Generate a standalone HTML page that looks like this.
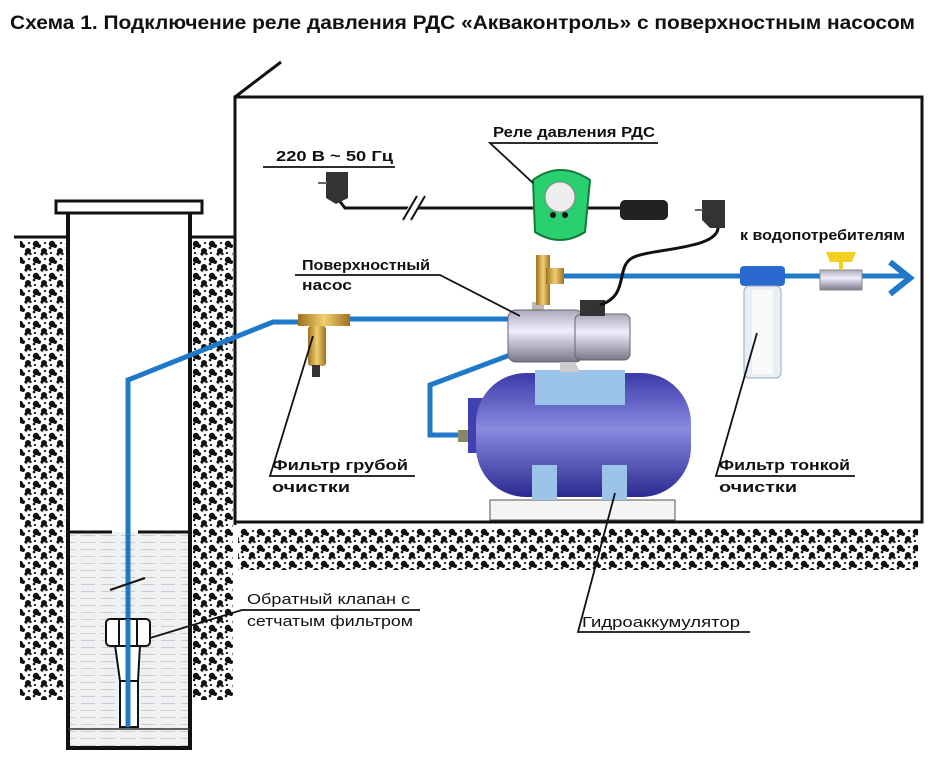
<!DOCTYPE html>
<html><head><meta charset="utf-8"><style>
html,body{margin:0;padding:0;background:#fff;}
svg{display:block;}
text{font-family:"Liberation Sans","DejaVu Sans",sans-serif;fill:#111;}
</style></head><body>
<svg width="940" height="764" viewBox="0 0 940 764" xmlns="http://www.w3.org/2000/svg">
<defs>
<pattern id="soil" width="16" height="16" patternUnits="userSpaceOnUse">
<circle cx="4" cy="4" r="3.2" fill="#111"/><circle cx="7" cy="6" r="2" fill="#111"/><circle cx="2" cy="8" r="1.3" fill="#111"/>
<circle cx="12" cy="11" r="3" fill="#111"/><circle cx="10" cy="14" r="1.6" fill="#111"/><circle cx="14.5" cy="14" r="1.2" fill="#111"/>
<circle cx="13" cy="3" r="1.1" fill="#111"/><circle cx="3" cy="13" r="1.1" fill="#111"/>
</pattern>
<pattern id="water" width="20" height="7" patternUnits="userSpaceOnUse">
<rect width="20" height="7" fill="#eef0f2"/><line x1="1" y1="3.5" x2="15" y2="3.5" stroke="#c9ccd0" stroke-width="1"/>
</pattern>
<linearGradient id="tank" x1="0" y1="0" x2="0" y2="1"><stop offset="0" stop-color="#3a3aa8"/><stop offset="0.45" stop-color="#8a8ae0"/><stop offset="1" stop-color="#2a2a90"/></linearGradient>
<linearGradient id="metal" x1="0" y1="0" x2="0" y2="1"><stop offset="0" stop-color="#aab"/><stop offset="0.4" stop-color="#eef"/><stop offset="1" stop-color="#778"/></linearGradient>
<linearGradient id="brass" x1="0" y1="0" x2="1" y2="0"><stop offset="0" stop-color="#a07020"/><stop offset="0.5" stop-color="#f0d070"/><stop offset="1" stop-color="#a07020"/></linearGradient>
</defs>

<text x="10" y="29" font-size="19" font-weight="bold" textLength="905" lengthAdjust="spacingAndGlyphs">Схема 1. Подключение реле давления РДС «Акваконтроль» с поверхностным насосом</text>

<!-- soil -->
<rect x="20" y="240" width="45" height="460" fill="url(#soil)"/>
<rect x="193" y="240" width="40" height="460" fill="url(#soil)"/>
<rect x="238" y="528" width="680" height="42" fill="url(#soil)"/>

<!-- house -->
<polyline points="235,525 235,97 922,97 922,522 235,522" fill="none" stroke="#111" stroke-width="3"/>
<line x1="235" y1="97" x2="281" y2="62" stroke="#111" stroke-width="3"/>

<!-- well -->
<rect x="56" y="201" width="146" height="12" fill="#fff" stroke="#111" stroke-width="3"/>
<line x1="14" y1="237" x2="68" y2="237" stroke="#111" stroke-width="3"/>
<line x1="190" y1="237" x2="235" y2="237" stroke="#111" stroke-width="3"/>
<rect x="68" y="532" width="122" height="214" fill="url(#water)"/>
<line x1="68" y1="213" x2="68" y2="748" stroke="#111" stroke-width="4"/>
<line x1="190" y1="213" x2="190" y2="748" stroke="#111" stroke-width="4"/>
<line x1="66" y1="748" x2="192" y2="748" stroke="#111" stroke-width="4"/>
<line x1="68" y1="532" x2="112" y2="532" stroke="#111" stroke-width="3"/>
<line x1="138" y1="532" x2="190" y2="532" stroke="#111" stroke-width="3"/>
<line x1="68" y1="729" x2="190" y2="729" stroke="#333" stroke-width="1.5"/>

<!-- blue pipes -->
<g fill="none" stroke="#1f78c8" stroke-width="5">
<polyline points="128,727 128,380 273,322 300,322"/>
<line x1="350" y1="319" x2="508" y2="319"/>
<polyline points="510,355 430,385 430,435 462,435"/>
<line x1="560" y1="276" x2="905" y2="276"/>
</g>
<polyline points="890,262 910,278 890,294" fill="none" stroke="#1f78c8" stroke-width="6"/>
<line x1="110" y1="590" x2="145" y2="578" stroke="#111" stroke-width="2"/>

<!-- check valve -->
<g stroke="#111" stroke-width="2" fill="#fff">
<path d="M115,645 L140,645 L138,681 L120,681 Z"/>
<rect x="120" y="681" width="18" height="46"/>
<rect x="106" y="619" width="44" height="27" rx="4"/>
<line x1="119" y1="619" x2="119" y2="646"/><line x1="137" y1="619" x2="137" y2="646"/>
</g>
<line x1="128" y1="619" x2="128" y2="727" stroke="#1f78c8" stroke-width="5"/>

<!-- coarse filter -->
<rect x="298" y="314" width="52" height="12" fill="url(#brass)"/>
<rect x="308" y="326" width="18" height="40" fill="url(#brass)" rx="3"/>
<rect x="312" y="365" width="8" height="12" fill="#333"/>

<!-- tank -->
<rect x="490" y="500" width="185" height="20" fill="#f4f4f4" stroke="#555"/>
<rect x="468" y="398" width="15" height="55" fill="#4040b0"/>
<rect x="476" y="373" width="215" height="124" rx="50" fill="url(#tank)"/>
<rect x="535" y="370" width="90" height="35" fill="#9cc4e8"/>
<rect x="532" y="465" width="25" height="35" fill="#9cc4e8"/>
<rect x="602" y="465" width="25" height="35" fill="#9cc4e8"/>
<rect x="458" y="430" width="10" height="12" fill="#886"/>

<!-- pump -->
<rect x="532" y="302" width="12" height="10" fill="#bbb"/>
<rect x="508" y="310" width="75" height="52" rx="8" fill="url(#metal)" stroke="#666"/>
<rect x="575" y="314" width="55" height="46" rx="6" fill="url(#metal)" stroke="#666"/>
<rect x="580" y="300" width="25" height="16" fill="#333"/>
<path d="M560,362 L575,362 L580,372 L560,372Z" fill="#ccc"/>
<!-- tee -->
<rect x="536" y="255" width="14" height="50" fill="url(#brass)"/>
<rect x="546" y="268" width="18" height="16" fill="url(#brass)"/>

<!-- fine filter -->
<rect x="740" y="266" width="45" height="20" rx="4" fill="#2a6ad0"/>
<rect x="744" y="286" width="37" height="92" rx="5" fill="#e8eef4" stroke="#9ab"/>
<rect x="752" y="290" width="21" height="84" fill="#fafafa"/>
<!-- valve -->
<rect x="820" y="270" width="42" height="20" fill="url(#metal)" stroke="#888"/>
<path d="M826,252 L856,252 L852,262 L843,262 L843,270 L839,270 L839,262 L830,262Z" fill="#f2d020"/>

<!-- electric -->
<g fill="none" stroke="#111" stroke-width="3">
<polyline points="335,195 345,208 640,208"/>
<path d="M718,225 C722,250 650,248 632,258 C615,268 630,295 600,305"/>
</g>
<line x1="405" y1="220" x2="420" y2="196" stroke="#fff" stroke-width="8"/>
<line x1="403" y1="220" x2="417" y2="196" stroke="#111" stroke-width="2"/>
<line x1="411" y1="220" x2="425" y2="196" stroke="#111" stroke-width="2"/>
<path d="M326,172 L348,172 L348,198 L336,204 L326,198Z" fill="#333"/>
<line x1="318" y1="183" x2="327" y2="183" stroke="#666" stroke-width="2"/>
<rect x="620" y="200" width="48" height="20" rx="5" fill="#222"/>
<path d="M702,200 L725,200 L725,228 L710,228 L702,220Z" fill="#333"/>
<line x1="695" y1="210" x2="703" y2="210" stroke="#666" stroke-width="2"/>
<!-- relay -->
<path d="M533,180 Q560,160 590,180 L585,232 Q560,248 535,232 Z" fill="#28d070" stroke="#157a3a" stroke-width="2"/>
<circle cx="560" cy="197" r="15" fill="#eee" stroke="#888"/>
<circle cx="553" cy="215" r="3" fill="#111"/><circle cx="565" cy="215" r="3" fill="#111"/>

<!-- labels & leaders -->
<g stroke="#111" stroke-width="1.8" fill="none">
<polyline points="263,167 395,167"/>
<polyline points="533,183 490,143 658,143"/>
<polyline points="520,316 440,275 295,275"/>
<polyline points="313,336 270,476 415,476"/>
<polyline points="757,333 716,476 855,476"/>
<polyline points="150,638 242,610 420,610"/>
<polyline points="615,493 578,632 750,632"/>
</g>
<g font-size="15" font-weight="bold" lengthAdjust="spacingAndGlyphs">
<text x="276" y="161" textLength="117" lengthAdjust="spacingAndGlyphs">220 В ~ 50 Гц</text>
<text x="493" y="137" textLength="162" lengthAdjust="spacingAndGlyphs">Реле давления РДС</text>
<text x="302" y="270" textLength="128" lengthAdjust="spacingAndGlyphs">Поверхностный</text>
<text x="302" y="290" textLength="50" lengthAdjust="spacingAndGlyphs">насос</text>
<text x="740" y="240" textLength="165" lengthAdjust="spacingAndGlyphs">к водопотребителям</text>
<text x="272" y="470" textLength="136" lengthAdjust="spacingAndGlyphs">Фильтр грубой</text>
<text x="272" y="492" textLength="78" lengthAdjust="spacingAndGlyphs">очистки</text>
<text x="719" y="470" textLength="131" lengthAdjust="spacingAndGlyphs">Фильтр тонкой</text>
<text x="719" y="492" textLength="78" lengthAdjust="spacingAndGlyphs">очистки</text>
</g>
<g font-size="15">
<text x="247" y="604" textLength="163" lengthAdjust="spacingAndGlyphs">Обратный клапан с</text>
<text x="247" y="626" textLength="166" lengthAdjust="spacingAndGlyphs">сетчатым фильтром</text>
<text x="582" y="627" textLength="158" lengthAdjust="spacingAndGlyphs">Гидроаккумулятор</text>
</g>
</svg>
</body></html>
